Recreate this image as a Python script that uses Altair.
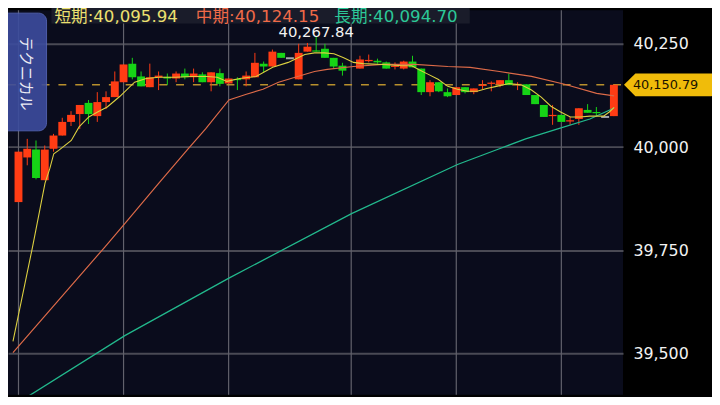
import altair as alt
import pandas as pd

# ---------------- data ----------------
# candle slot index (slot 39 is empty in the picture)
idx = list(range(1, 39)) + list(range(40, 70))
opens = [39867, 39975, 39994, 39920, 39996, 40028, 40061, 40080, 40107, 40075,
         40109, 40121, 40157, 40202, 40171, 40145, 40169, 40170, 40166, 40178,
         40169, 40176, 40157, 40179, 40154, 40165, 40164, 40169, 40202, 40195,
         40228, 40215, 40164, 40231, 40234, 40238, 40216, 40197,
         40190, 40208, 40209, 40205, 40194, 40190, 40207, 40190, 40133, 40157,
         40133, 40126, 40145, 40133, 40148, 40153, 40152, 40162, 40150, 40152,
         40126, 40102, 40075, 40078, 40062, 40068, 40090, 40085, 40073, 40075]
highs = [39989, 40020, 40016, 40004, 40032, 40071, 40087, 40102, 40114, 40133,
         40135, 40183, 40200, 40216, 40183, 40202, 40183, 40178, 40183, 40190,
         40190, 40181, 40181, 40190, 40166, 40169, 40183, 40228, 40207, 40236,
         40228, 40215, 40250, 40252, 40267.84, 40250, 40216, 40204,
         40221, 40224, 40214, 40207, 40205, 40209, 40221, 40190, 40162, 40157,
         40142, 40145, 40145, 40142, 40162, 40159, 40162, 40178, 40157, 40152,
         40126, 40102, 40102, 40078, 40073, 40094, 40104, 40097, 40073, 40150.79]
lows = [39867, 39956, 39922, 39920, 39989, 40028, 40051, 40044, 40056, 40061,
        40092, 40121, 40157, 40164, 40147, 40145, 40138, 40150, 40157, 40164,
        40157, 40157, 40135, 40147, 40154, 40138, 40147, 40169, 40181, 40195,
        40216, 40215, 40164, 40231, 40231, 40216, 40190, 40173,
        40190, 40205, 40202, 40190, 40188, 40188, 40193, 40126, 40123, 40133,
        40121, 40126, 40130, 40128, 40140, 40135, 40145, 40150, 40138, 40126,
        40104, 40073, 40054, 40061, 40054, 40054, 40083, 40075, 40073, 40075]
closes = [39989, 39996, 39925, 39994, 40028, 40061, 40078, 40102, 40080, 40109,
          40121, 40159, 40200, 40169, 40147, 40169, 40173, 40166, 40178, 40169,
          40178, 40157, 40181, 40153, 40166, 40162, 40173, 40204, 40195, 40231,
          40216, 40215, 40228, 40243, 40231, 40216, 40195, 40185,
          40212, 40211, 40205, 40190, 40197, 40207, 40193, 40133, 40157, 40135,
          40123, 40145, 40133, 40142, 40151, 40156, 40162, 40150, 40153, 40126,
          40104, 40073, 40078, 40061, 40065, 40094, 40083, 40082, 40073, 40150.79]

# moving averages (slot position, value)
short_x = [0.37, 2.59, 3.48, 4.03, 4.59, 5.03, 5.59, 7.03, 7.92, 9.03, 10.03, 11.14,
           12.59, 14.26, 15.59, 17.03, 18.92, 20.7, 22.59, 23.7, 24.81, 26.26, 28.14,
           30.03, 31.81, 33.7, 34.81, 35.92, 37.03, 38.14, 39.26, 40.37, 42.59, 44.81,
           45.92, 46.7, 47.81, 48.92, 50.03, 51.14, 52.26, 53.37, 54.48, 55.59, 57.03,
           58.48, 59.59, 60.7, 61.81, 62.92, 64.03, 65.14, 66.26, 67.81, 68.48, 69.03]
short_v = [39530, 39757, 39853, 39913, 39949, 39984, 39992, 40016, 40049, 40073, 40085,
           40097, 40123, 40157, 40166, 40169, 40169, 40171, 40171, 40169, 40159, 40166,
           40171, 40193, 40205, 40224, 40228, 40228, 40226, 40216, 40205, 40202, 40200,
           40197, 40197, 40188, 40176, 40164, 40147, 40140, 40135, 40135, 40142, 40147,
           40154, 40150, 40138, 40121, 40099, 40085, 40073, 40073, 40075, 40075, 40085,
           40095.94]
mid_x = [0.37, 10.81, 13.14, 17.03, 20.37, 22.37, 25.03, 27.03, 28.92, 30.7, 32.59,
         34.81, 36.26, 39.26, 42.59, 46.26, 50.03, 52.59, 55.92, 59.59, 63.37, 67.03, 69.03]
mid_v = [39503, 39757, 39815, 39913, 39996, 40044, 40114, 40128, 40140, 40157, 40169,
         40183, 40188, 40195, 40200, 40200, 40195, 40193, 40183, 40171, 40152, 40130,
         40124.15]
long_x = [0.37, 13.14, 25.03, 39.04, 51.14, 55.92, 58.92, 62.59, 66.26, 69.03]
long_v = [39374, 39544, 39683, 39839, 39958, 39996, 40020, 40044, 40068, 40094.70]

grid_slots = [1, 13, 25, 39, 51, 63]
y_ticks = [39500, 39750, 40000, 40250]
last_price = 40150.79
max_slot, max_price = 35, 40267.84
legend_labels = ["短期", "中期", "長期"]
legend_values = [40095.94, 40124.15, 40094.70]

# ---------------- chart ----------------
W, H = 622, 389
xs = alt.Scale(domain=[0.3667, 69.478], nice=False, zero=False)
ys = alt.Scale(domain=[39400.7, 40331.3], nice=False, zero=False)
yaxis = alt.Axis(orient="right", values=y_ticks, format=",.0f", labelColor="#f2f2f2",
                 labelFontSize=16, labelFont="DejaVu Sans", labelPadding=10,
                 ticks=False, domain=False, grid=True, gridColor="#4a4a54",
                 gridWidth=2, title=None, labelFlush=False, labelOverlap=False)

df = pd.DataFrame({"i": idx, "open": opens, "high": highs, "low": lows, "close": closes})
df["dir"] = ["up" if c > o else ("down" if c < o else "flat") for o, c in zip(opens, closes)]
color = alt.Color("dir:N", scale=alt.Scale(domain=["up", "down", "flat"],
                                           range=["#ff3c14", "#16d416", "#e8e8e8"]),
                  legend=None)
X = alt.X("i:Q", scale=xs, axis=None)

grid = alt.Chart(pd.DataFrame({"g": grid_slots})).mark_rule(
    color="#62626c", strokeWidth=1.2).encode(x=alt.X("g:Q", scale=xs, axis=None))

lp = pd.DataFrame({"p": [last_price], "t": [f"{last_price:,.2f}"]})
dash = alt.Chart(lp).mark_rule(strokeDash=[8, 9], color="#b8902c", strokeWidth=1.5).encode(
    y=alt.Y("p:Q", scale=ys, axis=yaxis), x=alt.value(0), x2=alt.value(W))

wicks = alt.Chart(df).transform_filter("datum.high > datum.low").mark_rule(strokeWidth=1).encode(
    x=X, y=alt.Y("low:Q", scale=ys, axis=yaxis), y2="high:Q", color=color)
bodies = alt.Chart(df).transform_filter("datum.open != datum.close").mark_bar(size=8).encode(
    x=X, y=alt.Y("open:Q", scale=ys, axis=yaxis), y2="close:Q", color=color)
flats = alt.Chart(df).transform_filter("datum.open == datum.close").mark_tick(
    orient="horizontal", size=8, thickness=2).encode(
    x=X, y=alt.Y("open:Q", scale=ys, axis=yaxis), color=color)

def ma(xv, vv, col, w):
    d = pd.DataFrame({"x": xv, "v": vv})
    return alt.Chart(d).mark_line(color=col, strokeWidth=w, clip=True).encode(
        x=alt.X("x:Q", scale=xs, axis=None), y=alt.Y("v:Q", scale=ys, axis=yaxis), order="x:Q")

long_l = ma(long_x, long_v, "#22b88c", 1.3)
mid_l = ma(mid_x, mid_v, "#dc6a48", 1.2)
short_l = ma(short_x, short_v, "#dcd040", 1.1)

mx = pd.DataFrame({"i": [max_slot], "p": [max_price], "t": [f"{max_price:,.2f}"]})
max_lbl = alt.Chart(mx).mark_text(dy=0.5, baseline="alphabetic", align="center", fontSize=15,
                                  font="DejaVu Sans", color="#f2f2f2").encode(
    x=X, y=alt.Y("p:Q", scale=ys, axis=yaxis), text="t:N")

one = pd.DataFrame({"k": [0]})
leg_bg = alt.Chart(one).mark_rect(color="#1a1c2a").encode(
    x=alt.value(44), x2=alt.value(467), y=alt.value(-5), y2=alt.value(13.5))
leg_cols = ["#ece070", "#f06a48", "#2cc898"]
leg_x = [47, 190, 330]
legs = []
for lab, val, c, px in zip(legend_labels, legend_values, leg_cols, leg_x):
    legs.append(alt.Chart(pd.DataFrame({"t": [f"{lab}:{val:,.2f}"]})).mark_text(
        align="left", baseline="alphabetic", fontSize=16.8,
        font="DejaVu Sans, Noto Sans CJK JP", color=c).encode(
        x=alt.value(px), y=alt.value(12), text="t:N"))

tech_box = alt.Chart(one).mark_rect(color="#3c4c9e", opacity=0.9, cornerRadius=8,
                                    stroke="#5666b8", strokeWidth=1).encode(
    x=alt.value(-12), x2=alt.value(39), y=alt.value(3), y2=alt.value(122))
tech_txt = alt.Chart(pd.DataFrame({"t": ["テクニカル"]})).mark_text(
    angle=90, align="center", baseline="middle", fontSize=15, font="Noto Sans CJK JP",
    color="#ececf4").encode(x=alt.value(18), y=alt.value(64), text="t:N")

tag_path = "M -1 0 L 0 -1 L 6.6 -1 Q 7 -1 7 -0.6 L 7 0.6 Q 7 1 6.6 1 L 0 1 Z"
tag = alt.Chart(lp).mark_point(shape=tag_path, size=529, filled=True, opacity=1,
                               color="#f0bc0a", clip=False).encode(
    x=alt.value(634.5), y=alt.Y("p:Q", scale=ys, axis=yaxis))
tag_txt = alt.Chart(lp).mark_text(align="left", baseline="middle", fontSize=13,
                                  font="DejaVu Sans", color="#181200").encode(
    x=alt.value(632), y=alt.Y("p:Q", scale=ys, axis=yaxis), text="t:N")

chart = alt.layer(grid, dash, wicks, bodies, flats, long_l, mid_l, short_l, max_lbl,
                  leg_bg, *legs, tech_box, tech_txt, tag, tag_txt).properties(
    width=W, height=H, autosize="none",
    padding={"left": 0, "top": 0, "right": 90, "bottom": 0}
).configure(background="#000000").configure_view(fill="#0a0c1c", stroke=None)

chart.save("out.html", embed_options={"renderer": "svg", "actions": False})
